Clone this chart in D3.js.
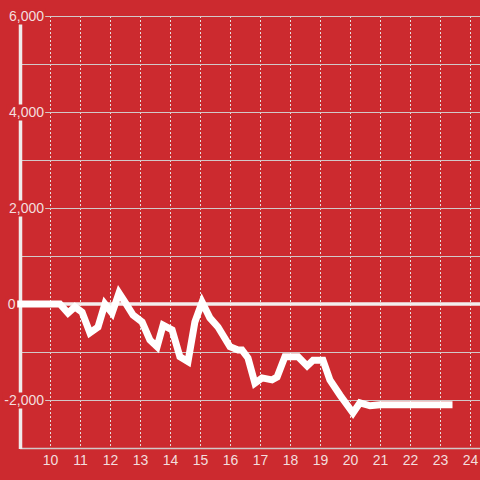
<!DOCTYPE html>
<html><head><meta charset="utf-8">
<script src="https://cdn.jsdelivr.net/npm/d3@7"></script>
<style>html,body{margin:0;padding:0;background:#cc2a2f;}svg{display:block;}</style>
</head><body>
<script>
const xs = [9, 10.33, 10.6, 10.83, 11.07, 11.33, 11.6, 11.83, 12.07, 12.3, 12.5, 12.77, 13.07, 13.33, 13.57, 13.77, 14.07, 14.33, 14.6, 14.83, 15.07, 15.33, 15.6, 16, 16.27, 16.4, 16.6, 16.83, 17.07, 17.4, 17.57, 17.83, 18.27, 18.57, 18.77, 19.1, 19.33, 19.67, 20.1, 20.33, 20.67, 21, 23.3];
const ys = [0, 0, -190, -60, -170, -600, -480, 0, -190, 230, 40, -230, -375, -750, -890, -440, -540, -1100, -1200, -375, 40, -290, -480, -890, -960, -960, -1125, -1650, -1540, -1580, -1520, -1100, -1100, -1290, -1170, -1170, -1580, -1900, -2270, -2060, -2120, -2100, -2100];
const xTicks = [10, 11, 12, 13, 14, 15, 16, 17, 18, 19, 20, 21, 22, 23, 24];
const yLabelTicks = [-2000, 0, 2000, 4000, 6000];
const yGridTicks = [-2000, -1000, 1000, 2000, 3000, 4000, 5000, 6000];

const W = 480, H = 480;
const svg = d3.select("body").append("svg").attr("width", W).attr("height", H);
svg.append("rect").attr("width", W).attr("height", H).attr("fill", "#cc2a2f");

const x = d3.scaleLinear().domain([9, 24]).range([20, 470]);
const y = d3.scaleLinear().domain([-3000, 6000]).range([448, 16]);
const loc = d3.formatLocale({decimal: ".", thousands: ",", grouping: [3], currency: ["$", ""], minus: "-"});
const fmt = loc.format(",");
const font = "'Liberation Sans', Arial, sans-serif";
const txtCol = "#f3dede";

// vertical dashed grid
svg.append("g").selectAll("line").data(xTicks).join("line")
  .attr("x1", d => x(d)).attr("x2", d => x(d))
  .attr("y1", y(6000)).attr("y2", y(-3000))
  .attr("stroke", "#e6dede").attr("stroke-width", 1).attr("stroke-dasharray", "2,2")
  .attr("shape-rendering", "crispEdges");

// horizontal grid
svg.append("g").selectAll("line").data(yGridTicks).join("line")
  .attr("x1", d => yLabelTicks.includes(d) ? 45 : 20).attr("x2", W)
  .attr("y1", d => Math.round(y(d)) + 0.5).attr("y2", d => Math.round(y(d)) + 0.5)
  .attr("stroke", "#d2c8c8").attr("stroke-width", 1.2);

// bottom line
svg.append("line").attr("x1", 20).attr("x2", W).attr("y1", 448.5).attr("y2", 448.5)
  .attr("stroke", "#d2c8c8").attr("stroke-width", 1.5);

// left axis line
svg.append("line").attr("x1", 20.5).attr("x2", 20.5).attr("y1", y(6000)).attr("y2", 449)
  .attr("stroke", "#f0ebeb").attr("stroke-width", 3.5);

// x axis labels
const xAxis = d3.axisBottom(x).tickValues(xTicks).tickSize(0).tickPadding(0).tickFormat(d3.format("d"));
const gx = svg.append("g").attr("transform", "translate(0,455)").call(xAxis);
gx.select(".domain").remove();
gx.selectAll("text").attr("fill", txtCol).attr("font-size", 14).attr("font-family", font).attr("dy", "0.71em");

// zero line
svg.append("line").attr("x1", 20).attr("x2", W).attr("y1", y(0)).attr("y2", y(0))
  .attr("stroke", "#f3eeee").attr("stroke-width", 3.5);

// data line
const pts = xs.map((v, i) => [v, ys[i]]);
svg.append("path").datum(pts)
  .attr("d", d3.line().x(d => x(d[0])).y(d => y(d[1])))
  .attr("fill", "none").attr("stroke", "#ffffff").attr("stroke-width", 7)
  .attr("stroke-linejoin", "miter").attr("stroke-linecap", "square");

// y axis labels (on top)
const yAxis = d3.axisLeft(y).tickValues(yLabelTicks).tickSize(0).tickPadding(0).tickFormat(fmt);
const gy = svg.append("g").attr("transform", "translate(44,0)").call(yAxis);
gy.select(".domain").remove();
gy.selectAll(".tick line").remove();
gy.selectAll(".tick").each(function(d) {
  const g = d3.select(this);
  const t = g.select("text");
  t.attr("fill", txtCol).attr("font-size", 14).attr("font-family", font).attr("dy", "0.35em");
  if (d === 0) t.attr("x", -28.5);
  const bb = t.node().getBBox();
  g.insert("rect", "text").attr("x", bb.x - 2).attr("y", -8).attr("width", bb.width + (d === 0 ? 3.5 : 3)).attr("height", 16).attr("fill", "#cc2a2f");
});
</script>
</body></html>
